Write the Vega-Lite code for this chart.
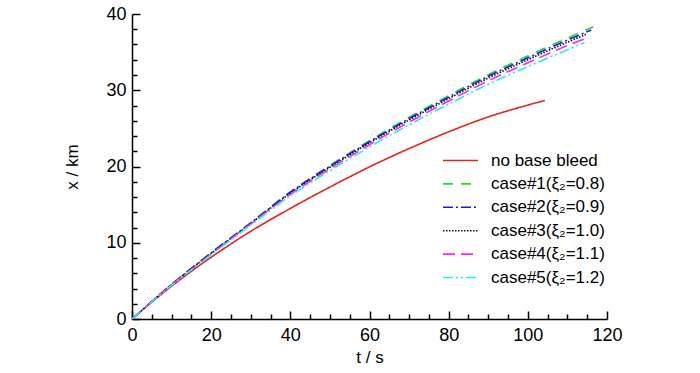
{
  "$schema": "https://vega.github.io/schema/vega-lite/v6.json",
  "width": 475,
  "height": 305,
  "autosize": {"type": "none"},
  "padding": {"left": 132, "top": 14, "right": 93, "bottom": 54},
  "background": "white",
  "config": {
    "view": {"stroke": null},
    "font": "Liberation Sans",
    "axis": {
      "domainColor": "black",
      "domainWidth": 1.5,
      "tickColor": "black",
      "tickWidth": 1.5,
      "grid": false,
      "labelColor": "black",
      "labelFontSize": 18,
      "titleColor": "black",
      "titleFontSize": 17,
      "titleFontWeight": "normal"
    }
  },
  "data": {"values": [
    {"s": "no base bleed", "t": 0, "x": 0},
    {"s": "no base bleed", "t": 5, "x": 2.2},
    {"s": "no base bleed", "t": 10, "x": 4.3},
    {"s": "no base bleed", "t": 20, "x": 8.1},
    {"s": "no base bleed", "t": 30, "x": 11.5},
    {"s": "no base bleed", "t": 40, "x": 14.5},
    {"s": "no base bleed", "t": 50, "x": 17.3},
    {"s": "no base bleed", "t": 60, "x": 19.95},
    {"s": "no base bleed", "t": 70, "x": 22.35},
    {"s": "no base bleed", "t": 80, "x": 24.55},
    {"s": "no base bleed", "t": 90, "x": 26.5},
    {"s": "no base bleed", "t": 100, "x": 28.05},
    {"s": "no base bleed", "t": 104.3, "x": 28.65},

    {"s": "case#1(ξ₂=0.8)", "t": 0, "x": 0},
    {"s": "case#1(ξ₂=0.8)", "t": 5, "x": 2.3},
    {"s": "case#1(ξ₂=0.8)", "t": 10, "x": 4.55},
    {"s": "case#1(ξ₂=0.8)", "t": 20, "x": 8.7},
    {"s": "case#1(ξ₂=0.8)", "t": 30, "x": 12.65},
    {"s": "case#1(ξ₂=0.8)", "t": 40, "x": 16.7},
    {"s": "case#1(ξ₂=0.8)", "t": 50, "x": 20.15},
    {"s": "case#1(ξ₂=0.8)", "t": 60, "x": 23.4},
    {"s": "case#1(ξ₂=0.8)", "t": 70, "x": 26.45},
    {"s": "case#1(ξ₂=0.8)", "t": 80, "x": 29.3},
    {"s": "case#1(ξ₂=0.8)", "t": 90, "x": 32.05},
    {"s": "case#1(ξ₂=0.8)", "t": 100, "x": 34.5},
    {"s": "case#1(ξ₂=0.8)", "t": 110, "x": 36.85},
    {"s": "case#1(ξ₂=0.8)", "t": 116.5, "x": 38.3},

    {"s": "case#2(ξ₂=0.9)", "t": 0, "x": 0},
    {"s": "case#2(ξ₂=0.9)", "t": 5, "x": 2.3},
    {"s": "case#2(ξ₂=0.9)", "t": 10, "x": 4.52},
    {"s": "case#2(ξ₂=0.9)", "t": 20, "x": 8.65},
    {"s": "case#2(ξ₂=0.9)", "t": 30, "x": 12.58},
    {"s": "case#2(ξ₂=0.9)", "t": 40, "x": 16.6},
    {"s": "case#2(ξ₂=0.9)", "t": 50, "x": 20.03},
    {"s": "case#2(ξ₂=0.9)", "t": 60, "x": 23.25},
    {"s": "case#2(ξ₂=0.9)", "t": 70, "x": 26.28},
    {"s": "case#2(ξ₂=0.9)", "t": 80, "x": 29.1},
    {"s": "case#2(ξ₂=0.9)", "t": 90, "x": 31.83},
    {"s": "case#2(ξ₂=0.9)", "t": 100, "x": 34.25},
    {"s": "case#2(ξ₂=0.9)", "t": 110, "x": 36.58},
    {"s": "case#2(ξ₂=0.9)", "t": 116, "x": 37.9},

    {"s": "case#3(ξ₂=1.0)", "t": 0, "x": 0},
    {"s": "case#3(ξ₂=1.0)", "t": 5, "x": 2.3},
    {"s": "case#3(ξ₂=1.0)", "t": 10, "x": 4.5},
    {"s": "case#3(ξ₂=1.0)", "t": 20, "x": 8.6},
    {"s": "case#3(ξ₂=1.0)", "t": 30, "x": 12.5},
    {"s": "case#3(ξ₂=1.0)", "t": 40, "x": 16.5},
    {"s": "case#3(ξ₂=1.0)", "t": 50, "x": 19.9},
    {"s": "case#3(ξ₂=1.0)", "t": 60, "x": 23.1},
    {"s": "case#3(ξ₂=1.0)", "t": 70, "x": 26.1},
    {"s": "case#3(ξ₂=1.0)", "t": 80, "x": 28.9},
    {"s": "case#3(ξ₂=1.0)", "t": 90, "x": 31.6},
    {"s": "case#3(ξ₂=1.0)", "t": 100, "x": 34.0},
    {"s": "case#3(ξ₂=1.0)", "t": 110, "x": 36.3},
    {"s": "case#3(ξ₂=1.0)", "t": 115, "x": 37.4},

    {"s": "case#4(ξ₂=1.1)", "t": 0, "x": 0},
    {"s": "case#4(ξ₂=1.1)", "t": 5, "x": 2.28},
    {"s": "case#4(ξ₂=1.1)", "t": 10, "x": 4.46},
    {"s": "case#4(ξ₂=1.1)", "t": 20, "x": 8.52},
    {"s": "case#4(ξ₂=1.1)", "t": 30, "x": 12.48},
    {"s": "case#4(ξ₂=1.1)", "t": 40, "x": 16.34},
    {"s": "case#4(ξ₂=1.1)", "t": 50, "x": 19.7},
    {"s": "case#4(ξ₂=1.1)", "t": 60, "x": 22.86},
    {"s": "case#4(ξ₂=1.1)", "t": 70, "x": 25.82},
    {"s": "case#4(ξ₂=1.1)", "t": 80, "x": 28.58},
    {"s": "case#4(ξ₂=1.1)", "t": 90, "x": 31.24},
    {"s": "case#4(ξ₂=1.1)", "t": 100, "x": 33.6},
    {"s": "case#4(ξ₂=1.1)", "t": 110, "x": 35.86},
    {"s": "case#4(ξ₂=1.1)", "t": 114.7, "x": 36.8},

    {"s": "case#5(ξ₂=1.2)", "t": 0, "x": 0},
    {"s": "case#5(ξ₂=1.2)", "t": 5, "x": 2.26},
    {"s": "case#5(ξ₂=1.2)", "t": 10, "x": 4.41},
    {"s": "case#5(ξ₂=1.2)", "t": 20, "x": 8.42},
    {"s": "case#5(ξ₂=1.2)", "t": 30, "x": 12.33},
    {"s": "case#5(ξ₂=1.2)", "t": 40, "x": 16.14},
    {"s": "case#5(ξ₂=1.2)", "t": 50, "x": 19.45},
    {"s": "case#5(ξ₂=1.2)", "t": 60, "x": 22.56},
    {"s": "case#5(ξ₂=1.2)", "t": 70, "x": 25.47},
    {"s": "case#5(ξ₂=1.2)", "t": 80, "x": 28.18},
    {"s": "case#5(ξ₂=1.2)", "t": 90, "x": 30.79},
    {"s": "case#5(ξ₂=1.2)", "t": 100, "x": 33.1},
    {"s": "case#5(ξ₂=1.2)", "t": 110, "x": 35.31},
    {"s": "case#5(ξ₂=1.2)", "t": 114.2, "x": 36.2}
  ]},
  "mark": {"type": "line", "strokeWidth": 1.6, "interpolate": "monotone", "clip": true},
  "encoding": {
    "x": {
      "field": "t", "type": "quantitative",
      "scale": {"domain": [0, 120], "nice": false},
      "axis": {
        "title": "t / s",
        "values": [0,5,10,15,20,25,30,35,40,45,50,55,60,65,70,75,80,85,90,95,100,105,110,115,120],
        "labelExpr": "datum.value % 20 === 0 ? datum.label : ''",
        "tickSize": {"condition": {"test": "datum.value % 20 === 0", "value": -8}, "value": -5},
        "labelPadding": 15,
        "titlePadding": 2,
        "labelFlush": false,
        "labelOverlap": false
      }
    },
    "y": {
      "field": "x", "type": "quantitative",
      "scale": {"domain": [0, 40], "nice": false},
      "axis": {
        "title": "x / km",
        "values": [0,2,4,6,8,10,12,14,16,18,20,22,24,26,28,30,32,34,36,38,40],
        "labelExpr": "datum.value % 10 === 0 ? datum.label : ''",
        "tickSize": {"condition": {"test": "datum.value % 10 === 0", "value": -8}, "value": -5},
        "labelPadding": 14,
        "titlePadding": 24,
        "labelFlush": false,
        "labelOverlap": false
      }
    },
    "color": {
      "field": "s", "type": "nominal",
      "scale": {
        "domain": ["no base bleed", "case#1(ξ₂=0.8)", "case#2(ξ₂=0.9)", "case#3(ξ₂=1.0)", "case#4(ξ₂=1.1)", "case#5(ξ₂=1.2)"],
        "range": ["#e8251a", "#22dd22", "#1a1aee", "#111111", "#ff22ff", "#22eeee"]
      },
      "legend": {
        "title": null,
        "orient": "none",
        "legendX": 320,
        "legendY": 138,
        "symbolType": "M-3,0H3",
        "symbolSize": 136,
        "symbolStrokeWidth": 1.6,
        "labelFontSize": 17,
        "labelColor": "black",
        "labelOffset": 22,
        "rowPadding": 5.4,
        "labelLimit": 300
      }
    },
    "strokeDash": {
      "field": "s", "type": "nominal",
      "scale": {
        "domain": ["no base bleed", "case#1(ξ₂=0.8)", "case#2(ξ₂=0.9)", "case#3(ξ₂=1.0)", "case#4(ξ₂=1.1)", "case#5(ξ₂=1.2)"],
        "range": [[1, 0], [10, 8], [10, 3, 2, 3], [1.5, 1.5], [12, 6], [10, 3, 2, 3, 2, 3]]
      },
      "legend": null
    }
  }
}
